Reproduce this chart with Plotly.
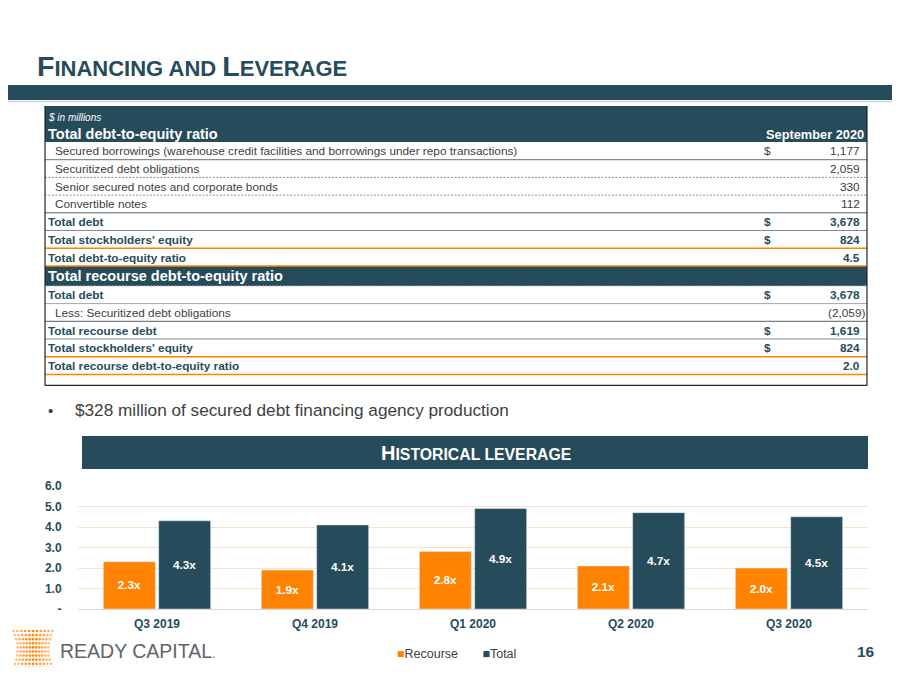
import math
import plotly.graph_objects as go

# page is shown with the browser's 8px body margin, so the figure is sized to fit inside it
OFF = 8
W, H = 900 - 2 * OFF, 675 - 2 * OFF
NAVY = "#264b5b"
ORANGE = "#ff8200"
GRAY = "#404040"
FONT = "Liberation Sans, Arial, sans-serif"

# ---- chart data
quarters = ["Q3 2019", "Q4 2019", "Q1 2020", "Q2 2020", "Q3 2020"]
recourse = [2.3, 1.9, 2.8, 2.1, 2.0]
total = [4.3, 4.1, 4.9, 4.7, 4.5]
y_ticks = [0, 1, 2, 3, 4, 5, 6]
y_ticklabels = ["-", "1.0", "2.0", "3.0", "4.0", "5.0", "6.0"]

# ---- table data
sec1_title = "Total debt-to-equity ratio"
sec1_labels = ["Secured borrowings (warehouse credit facilities and borrowings under repo transactions)",
               "Securitized debt obligations",
               "Senior secured notes and corporate bonds",
               "Convertible notes",
               "Total debt",
               "Total stockholders' equity",
               "Total debt-to-equity ratio"]
sec1_dollar = ["$", "", "", "", "$", "$", ""]
sec1_values = ["1,177", "2,059", "330", "112", "3,678", "824", "4.5"]

sec2_title = "Total recourse debt-to-equity ratio"
sec2_labels = ["Total debt",
               "Less: Securitized debt obligations",
               "Total recourse debt",
               "Total stockholders' equity",
               "Total recourse debt-to-equity ratio"]
sec2_dollar = ["$", "", "$", "$", ""]
sec2_values = ["3,678", "(2,059)", "1,619", "824", "2.0"]

bullet = "$328 million of secured debt financing agency production"


def px(x):
    return (x - OFF) / W


def py(y):
    return 1 - (y - OFF) / H


shapes = []
annotations = []


def rect(x0, y0, x1, y1, color):
    shapes.append(dict(type="rect", xref="paper", yref="paper", x0=px(x0), x1=px(x1),
                       y0=py(y1), y1=py(y0), fillcolor=color, line=dict(width=0), layer="below"))


def hline(y, color, dash="solid", x0=45, x1=867, width=1):
    shapes.append(dict(type="line", xref="paper", yref="paper", x0=px(x0), x1=px(x1),
                       y0=py(y), y1=py(y), line=dict(color=color, width=width, dash=dash)))


def text(x, y, s, size, color, anchor="left", bold=False, italic=False):
    annotations.append(dict(xref="paper", yref="paper", x=px(x), y=py(y), text=s,
                            showarrow=False, xanchor=anchor, yanchor="middle",
                            xshift=-1 if anchor == "left" else (1 if anchor == "right" else 0),
                            font=dict(family=FONT, size=size, color=color,
                                      weight="bold" if bold else "normal",
                                      style="italic" if italic else "normal")))


# title + band
text(36, 66, '<span style="font-size:28.5px">F</span>INANCING AND '
             '<span style="font-size:28.5px">L</span>EVERAGE', 22, NAVY, bold=True)
rect(0, 85, 900, 100, NAVY)
hline(101.5, "#c9d4db", x0=0, x1=900, width=1.5)

# table
ROW = 17.7
DASH = "2px,1.5px"
rect(45, 106, 867, 142, NAVY)
text(47, 117, "$ in millions", 10, "white", italic=True)
text(47, 134, sec1_title, 14.5, "white", bold=True)
text(865, 134, "September 2020", 12.8, "white", anchor="right", bold=True)

line1 = [("#6f6f6f", "solid"), ("#8c8c8c", DASH), ("#8c8c8c", DASH), ("#4f5f68", "solid"),
         ("#7f8c94", "solid"), (ORANGE, "solid"), (ORANGE, "solid")]
line2 = [("#a6a6a6", "solid"), ("#4f5f68", "solid"), ("#7f8c94", "solid"),
         (ORANGE, "solid"), (ORANGE, "solid")]


def draw_rows(top, labels, dollars, values, lines):
    for i, (lab, dol, val) in enumerate(zip(labels, dollars, values)):
        yc = top + ROW * i + ROW / 2 + 0.5
        bold = lab.startswith("Total")
        if bold:
            text(47, yc, lab, 11.8, NAVY, bold=True)
        else:
            text(54, yc, lab, 11.8, GRAY)
        if dol:
            text(763, yc, dol, 11.8, NAVY if bold else GRAY, bold=bold)
        xr = 866 if val.endswith(")") else 861
        text(xr, yc, val, 11.8, NAVY if bold else GRAY, anchor="right", bold=bold)
        c, d = lines[i]
        hline(top + ROW * (i + 1), c, d, width=1.5 if c == ORANGE else 1)


draw_rows(142, sec1_labels, sec1_dollar, sec1_values, line1)
top2 = 142 + ROW * len(sec1_labels)
rect(45, top2, 867, top2 + 20, NAVY)
text(47, top2 + 10, sec2_title, 14.5, "white", bold=True)
hline(top2 + 20, "#a6a6a6", DASH)
draw_rows(top2 + 20, sec2_labels, sec2_dollar, sec2_values, line2)
bottom = top2 + 20 + ROW * len(sec2_labels) + 11
for x0, y0, x1, y1 in [(45, 106, 45, bottom), (867, 106, 867, bottom), (45, bottom, 867, bottom)]:
    shapes.append(dict(type="line", xref="paper", yref="paper", x0=px(x0), x1=px(x1),
                       y0=py(y0), y1=py(y1), line=dict(color="#262626", width=1.2)))

# bullet
text(47, 410, "•", 15, GRAY)
text(74, 410, bullet, 17.2, GRAY)

# chart header
rect(82, 436, 868, 469, NAVY)
text(476, 453, '<span style="font-size:20px">H</span>ISTORICAL LEVERAGE', 15.8, "white",
     anchor="center", bold=True)

# legend (drawn as text to keep the compact slide look)
gap = "&nbsp;" * 7
text(456, 654, f'<span style="color:{ORANGE}">■</span>Recourse{gap}'
               f'<span style="color:{NAVY}">■</span>Total', 12.5, GRAY, anchor="center")

# page number + logo
text(876, 651, "16", 15.5, NAVY, anchor="right", bold=True)
text(59, 651, 'READY CAPITAL<span style="font-size:13px">.</span>', 19.5, "#5f6366")
for r in range(10):
    for c in range(11):
        pinch = 1 - 0.22 * math.sin(math.pi * r / 9)
        cx = 33 + (c - 5) * 3.9 * pinch
        cy = 631 + r * 4.1
        rr = 1.35
        op = 0.4 + 0.6 * (1 - abs(c - 5) / 6)
        shapes.append(dict(type="circle", xref="paper", yref="paper",
                           x0=px(cx - rr), x1=px(cx + rr), y0=py(cy + rr), y1=py(cy - rr),
                           fillcolor=ORANGE, opacity=op, line=dict(width=0)))

fig = go.Figure()
fig.add_trace(go.Bar(x=quarters, y=recourse, name="Recourse", marker_color=ORANGE,
                     texttemplate="%{y:.1f}x", textposition="inside", insidetextanchor="middle",
                     textangle=0, textfont=dict(family=FONT, size=11.8, color="white", weight="bold")))
fig.add_trace(go.Bar(x=quarters, y=total, name="Total", marker_color=NAVY,
                     texttemplate="%{y:.1f}x", textposition="inside", insidetextanchor="middle",
                     textangle=0, textfont=dict(family=FONT, size=11.8, color="white", weight="bold")))

fig.update_layout(
    width=W, height=H, margin=dict(l=0, r=0, t=0, b=0),
    paper_bgcolor="white", plot_bgcolor="white",
    font=dict(family=FONT, color=GRAY),
    barmode="group", bargap=0.3, bargroupgap=0.06, showlegend=False,
    shapes=shapes, annotations=annotations,
    xaxis=dict(domain=[px(78), px(868)], showline=True, linecolor="#d9d9d9", linewidth=1,
               tickfont=dict(size=12, color=NAVY, weight="bold"), automargin=False,
               ticks="outside", ticklen=4, tickcolor="rgba(0,0,0,0)"),
    yaxis=dict(domain=[py(609), py(486)], range=[0, 6], tickvals=y_ticks, ticktext=y_ticklabels,
               showgrid=True, gridcolor="#fbe2c4", zeroline=False, automargin=False,
               tickfont=dict(size=12, color=NAVY, weight="bold"),
               ticks="outside", ticklen=13, tickcolor="rgba(0,0,0,0)"),
)

fig.write_html("out.html")
